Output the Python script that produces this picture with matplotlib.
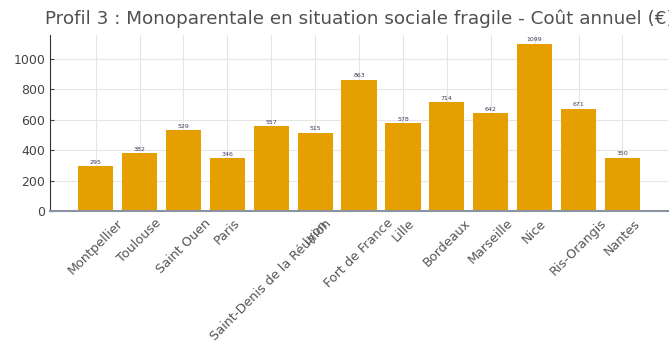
import matplotlib.pyplot as plt

villes = ['Montpellier', 'Toulouse', 'Saint Ouen', 'Paris', 'Saint-Denis de la Réunion',
          'Lyon', 'Fort de France', 'Lille', 'Bordeaux', 'Marseille', 'Nice',
          'Ris-Orangis', 'Nantes']
couts = [295, 382, 529, 346, 557, 515, 863, 578, 714, 642, 1099, 671, 350]

fig = plt.figure(figsize=(6.69, 3.45), dpi=100)
ax = fig.add_axes([0.0747, 0.388, 0.924, 0.51])

bars = ax.bar(range(len(villes)), couts, width=0.8, color='#E69F00', zorder=2)
ax.bar_label(bars, labels=[str(c) for c in couts], fontsize=4.5, color='#3a3f5a', padding=1)

ax.set_xticks(range(len(villes)))
ax.set_xticklabels(villes, rotation=45, fontsize=9.2, color='#555555')
ax.set_yticks([0, 200, 400, 600, 800, 1000])
ax.tick_params(axis='y', labelsize=9, colors='#444444', direction='in', length=3)
ax.tick_params(axis='x', direction='in', length=3, color='#333333', pad=4)

ax.grid(True, color='#e6e6e6', linewidth=0.8, zorder=0)
for s in ['top', 'right']:
    ax.spines[s].set_visible(False)
ax.spines['left'].set_color('#333333')
ax.spines['bottom'].set_color('#8a94a0')
ax.spines['bottom'].set_linewidth(1.5)

ax.set_title('Profil 3 : Monoparentale en situation sociale fragile - Coût annuel (€)',
             fontsize=13.2, color='#505050', pad=8)

fig.savefig('out.png', dpi=100)
